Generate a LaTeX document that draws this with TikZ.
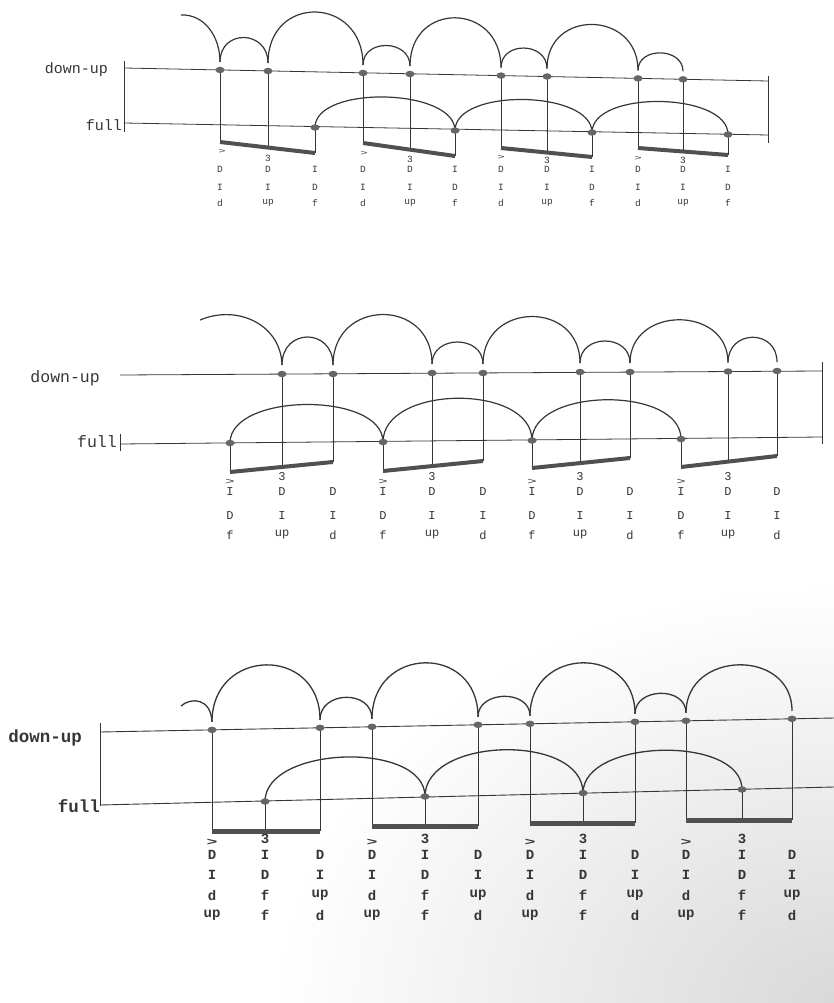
\documentclass[tikz,border=0pt]{standalone}
\usepackage{fontspec}
\setmonofont{Liberation Mono}
\usetikzlibrary{calc,shapes.geometric}
\definecolor{ink}{HTML}{363636}
\definecolor{dotc}{HTML}{666666}
\definecolor{barc}{HTML}{505050}
\newcommand\acc{\scalebox{1.3}[0.75]{>}}
\begin{document}
\begin{tikzpicture}[x=1pt,y=-1pt,
  line/.style={ink, line width=0.8pt},
  hump/.style={ink, line width=1.2pt},
  bar/.style={barc, line width=4pt},
  tick/.style={ink, line width=0.6pt},
  dot/.style={ellipse, fill=dotc, inner sep=0pt, minimum width=9pt, minimum height=6.5pt},
  lA/.style={font=\ttfamily\fontsize{15}{15}\selectfont, text=ink, inner sep=0pt},
  lB/.style={font=\ttfamily\fontsize{16.5}{16.5}\selectfont, text=ink, inner sep=0pt},
  lC/.style={font=\ttfamily\bfseries\fontsize{17.5}{17.5}\selectfont, text=ink, inner sep=0pt},
  tA/.style={font=\ttfamily\fontsize{9.5}{9.5}\selectfont, text=ink, inner sep=0pt},
  tB/.style={font=\ttfamily\fontsize{12}{12}\selectfont, text=ink, inner sep=0pt},
  tC/.style={font=\ttfamily\bfseries\fontsize{14}{14}\selectfont, text=ink, inner sep=0pt}
]
\useasboundingbox (0,0) rectangle (834,1003);
% scan shadow at the lower right
\shade[inner color=black!15, outer color=white] (834,1003) ellipse [x radius=560, y radius=420];

%================ PANEL 1 ================
\coordinate (p1L1) at (124,68);  \coordinate (p1R1) at (768,81);
\coordinate (p1L2) at (124,123); \coordinate (p1R2) at (768,135);
\coordinate (p1lt) at (124,61);  \coordinate (p1lb) at (124,132);
\coordinate (p1rt) at (768,76);  \coordinate (p1rb) at (768,143);
\foreach \n/\x/\y in {1/220/70,2/268/71,3/363/73,4/410/74,5/501/75.6,6/547/76.5,7/638/78.4,8/683/79.3}
  \coordinate (p1u\n) at (\x,\y);
\foreach \n/\x/\y in {1/315/127.5,2/455/130.5,3/592/132.5,4/728/134.5}
  \coordinate (p1f\n) at (\x,\y);
\foreach \n/\sx/\sy/\mx/\my/\ex/\ey in {1/220/142/268/147.6/315/153, 2/363/143/410/149.6/455/156,
   3/501/148/547/152.5/592/157, 4/638/148/683/151.5/728/155}{
  \coordinate (p1s\n) at (\sx,\sy); \coordinate (p1m\n) at (\mx,\my); \coordinate (p1e\n) at (\ex,\ey);}
\node[lA, anchor=east] (p1du) at (108,70) {down-up};
\node[lA, anchor=east] (p1fu) at (122,125) {full};
\draw[line] (p1L1) -- (p1R1);
\draw[line] (p1L2) -- (p1R2);
\draw[line] (p1lt) -- (p1lb);
\draw[line] (p1rt) -- (p1rb);
\coordinate (p1a0) at (181,15);
\draw[hump] (p1a0) .. controls (204,14) and (220,36) .. ($(p1u1)+(0,-8)$);
\foreach \a/\b/\h in {p1u1/p1u2/25, p1u2/p1u3/52, p1u3/p1u4/20, p1u4/p1u5/49, p1u5/p1u6/20, p1u6/p1u7/45, p1u7/p1u8/18}
  \draw[hump] ($(\a)+(0,-8)$) .. controls +(0,-1.333*\h) and +(0,-1.333*\h) .. ($(\b)+(0,-8)$);
\foreach \a/\b/\h in {p1f1/p1f2/32, p1f2/p1f3/32, p1f3/p1f4/32}
  \draw[hump] (\a) .. controls +(0,-1.333*\h) and +(0,-1.333*\h) .. (\b);
\foreach \n/\a/\b in {1/1/2,2/3/4,3/5/6,4/7/8}{
  \draw[tick] (p1u\a) -- (p1s\n);
  \draw[tick] (p1u\b) -- (p1m\n);
  \draw[tick] (p1f\n) -- (p1e\n);
  \draw[bar] (p1s\n) -- (p1e\n);}
\foreach \n/\x/\y/\mx/\my in {1/222/151/268/158, 2/364/153/410/159, 3/501/157/547/160, 4/638/158/683/160}{
  \node[tA] (p1acc\n) at (\x,\y) {\acc};
  \node[tA] (p1three\n) at (\mx,\my) {3};}
\foreach \x/\ra/\rb/\rc [count=\i] in {220/D/I/d, 268/D/I/up, 315/I/D/f, 363/D/I/d, 410/D/I/up, 455/I/D/f,
   501/D/I/d, 547/D/I/up, 592/I/D/f, 638/D/I/d, 683/D/I/up, 728/I/D/f}{
  \node[tA] (p1ra\i) at (\x,169) {\ra};
  \node[tA] (p1rb\i) at (\x,187) {\rb};
  \node[tA] (p1rc\i) at (\x,203) {\rc};}
\foreach \n in {1,...,8} \node[dot] (p1U\n) at (p1u\n) {};
\foreach \n in {1,...,4} \node[dot] (p1F\n) at (p1f\n) {};

%================ PANEL 2 ================
\coordinate (p2L1) at (120,375); \coordinate (p2R1) at (822,371);
\coordinate (p2L2) at (120,444); \coordinate (p2R2) at (822,437);
\coordinate (p2lt) at (120,434); \coordinate (p2lb) at (120,451);
\coordinate (p2rt) at (822,362); \coordinate (p2rb) at (822,444);
\foreach \n/\x/\y in {1/282/374,2/333/374,3/432/373,4/483/373,5/580/372,6/630/372,7/728/371.5,8/777/371}
  \coordinate (p2u\n) at (\x,\y);
\foreach \n/\x/\y in {1/230/443,2/383/442,3/532/440.5,4/681/439}
  \coordinate (p2f\n) at (\x,\y);
\foreach \n/\sx/\sy/\mx/\my/\ex/\ey in {1/230/472/282/467/333/462, 2/383/471/432/466/483/461,
   3/532/468/580/463/630/458, 4/681/467/728/461.5/777/456}{
  \coordinate (p2s\n) at (\sx,\sy); \coordinate (p2m\n) at (\mx,\my); \coordinate (p2e\n) at (\ex,\ey);}
\node[lB, anchor=east] (p2du) at (100,378) {down-up};
\node[lB, anchor=east] (p2fu) at (117,442) {full};
\draw[line] (p2L1) -- (p2R1);
\draw[line] (p2L2) -- (p2R2);
\draw[line] (p2lt) -- (p2lb);
\draw[line] (p2rt) -- (p2rb);
\coordinate (p2a0) at (200,320);
\draw[hump] (p2a0) .. controls (238,304) and (281,325) .. ($(p2u1)+(0,-9)$);
\foreach \a/\b/\h in {p2u1/p2u2/28, p2u2/p2u3/50, p2u3/p2u4/22, p2u4/p2u5/47, p2u5/p2u6/22, p2u6/p2u7/43, p2u7/p2u8/25}
  \draw[hump] ($(\a)+(0,-9)$) .. controls +(0,-1.333*\h) and +(0,-1.333*\h) .. ($(\b)+(0,-9)$);
\foreach \a/\b/\h in {p2f1/p2f2/38, p2f2/p2f3/43, p2f3/p2f4/40}
  \draw[hump] (\a) .. controls +(0,-1.333*\h) and +(0,-1.333*\h) .. (\b);
\foreach \n/\a/\b in {1/1/2,2/3/4,3/5/6,4/7/8}{
  \draw[tick] (p2f\n) -- (p2s\n);
  \draw[tick] (p2u\a) -- (p2m\n);
  \draw[tick] (p2u\b) -- (p2e\n);
  \draw[bar] (p2s\n) -- (p2e\n);}
\foreach \n/\x/\mx in {1/230/282, 2/383/432, 3/532/580, 4/681/728}{
  \node[tB] (p2acc\n) at (\x,482) {\acc};
  \node[tB] (p2three\n) at (\mx,477) {3};}
\foreach \x/\ra/\rb/\rc [count=\i] in {230/I/D/f, 282/D/I/up, 333/D/I/d, 383/I/D/f, 432/D/I/up, 483/D/I/d,
   532/I/D/f, 580/D/I/up, 630/D/I/d, 681/I/D/f, 728/D/I/up, 777/D/I/d}{
  \node[tB] (p2ra\i) at (\x,492) {\ra};
  \node[tB] (p2rb\i) at (\x,516) {\rb};
  \node[tB] (p2rc\i) at (\x,535) {\rc};}
\foreach \n in {1,...,8} \node[dot] (p2U\n) at (p2u\n) {};
\foreach \n in {1,...,4} \node[dot] (p2F\n) at (p2f\n) {};

%================ PANEL 3 ================
\coordinate (p3L1) at (100,732); \coordinate (p3R1) at (834,718);
\coordinate (p3L2) at (100,805); \coordinate (p3R2) at (834,787);
\coordinate (p3lt) at (100,723); \coordinate (p3lb) at (100,806);
\foreach \n/\x/\y in {1/212/729.9,2/320/727.8,3/372/726.8,4/478/724.8,5/530/723.8,6/635/721.8,7/686/720.8,8/792/718.8}
  \coordinate (p3u\n) at (\x,\y);
\foreach \n/\x/\y in {1/265/801.5,2/425/796.5,3/583/793,4/742/789.5}
  \coordinate (p3f\n) at (\x,\y);
\foreach \n/\sx/\mx/\ex/\y in {1/212/265/320/831, 2/372/425/478/826, 3/530/583/635/823, 4/686/742/792/820}{
  \coordinate (p3s\n) at (\sx,\y); \coordinate (p3m\n) at (\mx,\y); \coordinate (p3e\n) at (\ex,\y);}
\node[lC, anchor=east] (p3du) at (82,738) {down-up};
\node[lC, anchor=east] (p3fu) at (100,806) {full};
\draw[line, line width=0.9pt] (p3L1) -- (p3R1);
\draw[line, line width=0.9pt] (p3L2) -- (p3R2);
\draw[line, line width=0.9pt] (p3lt) -- (p3lb);
\coordinate (p3a0) at (181,706);
\draw[hump, line width=1.3pt] (p3a0) .. controls (191,697) and (211,698) .. ($(p3u1)+(0,-8)$);
\foreach \a/\b/\h in {p3u1/p3u2/56, p3u2/p3u3/22, p3u3/p3u4/55, p3u4/p3u5/20, p3u5/p3u6/52, p3u6/p3u7/20, p3u7/p3u8/47}
  \draw[hump, line width=1.3pt] ($(\a)+(0,-8)$) .. controls +(0,-1.333*\h) and +(0,-1.333*\h) .. ($(\b)+(0,-8)$);
\foreach \a/\b/\h in {p3f1/p3f2/42, p3f2/p3f3/45, p3f3/p3f4/41}
  \draw[hump, line width=1.3pt] (\a) .. controls +(0,-1.333*\h) and +(0,-1.333*\h) .. (\b);
\foreach \n/\a/\b in {1/1/2,2/3/4,3/5/6,4/7/8}{
  \draw[tick, line width=0.9pt] (p3u\a) -- (p3s\n);
  \draw[tick, line width=0.9pt] (p3f\n) -- (p3m\n);
  \draw[tick, line width=0.9pt] (p3u\b) -- (p3e\n);
  \draw[bar, line width=5pt] (p3s\n) -- (p3e\n);}
\foreach \n/\x/\mx in {1/212/265, 2/372/425, 3/530/583, 4/686/742}{
  \node[tC] (p3acc\n) at (\x,842) {\acc};
  \node[tC] (p3three\n) at (\mx,839) {3};}
\foreach \x/\ra/\rb/\rc/\rd [count=\i] in {212/D/I/d/up, 265/I/D/f/f, 320/D/I/up/d, 372/D/I/d/up, 425/I/D/f/f, 478/D/I/up/d,
   530/D/I/d/up, 583/I/D/f/f, 635/D/I/up/d, 686/D/I/d/up, 742/I/D/f/f, 792/D/I/up/d}{
  \node[tC] (p3ra\i) at (\x,855) {\ra};
  \node[tC] (p3rb\i) at (\x,875) {\rb};
  \node[tC] (p3rc\i) at (\x,895) {\rc};
  \node[tC] (p3rd\i) at (\x,915) {\rd};}
\foreach \n in {1,...,8} \node[dot] (p3U\n) at (p3u\n) {};
\foreach \n in {1,...,4} \node[dot] (p3F\n) at (p3f\n) {};
\end{tikzpicture}
\end{document}
